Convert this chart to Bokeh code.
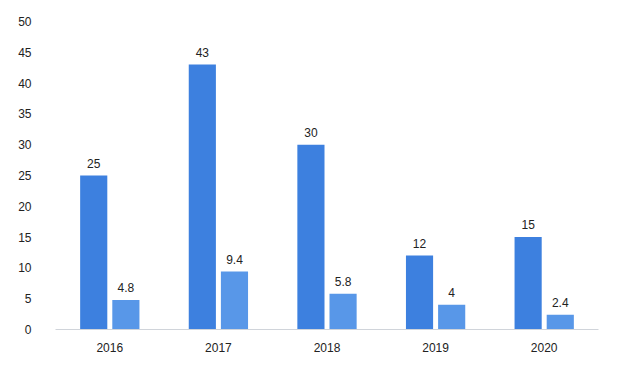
from bokeh.plotting import figure
from bokeh.models import ColumnDataSource, Range1d, FixedTicker
from bokeh.transform import dodge
from bokeh.embed import file_html
from bokeh.resources import INLINE
from bokeh.core.properties import value

years = ["2016", "2017", "2018", "2019", "2020"]
series_a = [25, 43, 30, 12, 15]
series_b = [4.8, 9.4, 5.8, 4, 2.4]
labels_a = ["25", "43", "30", "12", "15"]
labels_b = ["4.8", "9.4", "5.8", "4", "2.4"]
y_ticks = [0, 5, 10, 15, 20, 25, 30, 35, 40, 45, 50]

src = ColumnDataSource(dict(x=years, a=series_a, b=series_b, la=labels_a, lb=labels_b))

p = figure(width=640, height=370, x_range=years, y_range=Range1d(0, 50),
           output_backend="svg", toolbar_location=None,
           min_border_left=55, min_border_right=42, min_border_top=21, min_border_bottom=41)
p.outline_line_color = None
p.background_fill_color = "white"
p.border_fill_color = "white"
p.xgrid.grid_line_color = None
p.ygrid.grid_line_color = None

dark = "#3d80df"
light = "#5897e8"
p.vbar(x=dodge("x", -0.148, range=p.x_range), top="a", width=0.25, source=src,
       fill_color=dark, line_color=None)
p.vbar(x=dodge("x", 0.148, range=p.x_range), top="b", width=0.25, source=src,
       fill_color=light, line_color=None)

font = value("Liberation Sans")
p.text(x=dodge("x", -0.148, range=p.x_range), y="a", text="la", source=src,
       text_align="center", text_baseline="bottom", y_offset=-8,
       text_font=font, text_font_size="12px", text_color="#222222")
p.text(x=dodge("x", 0.148, range=p.x_range), y="b", text="lb", source=src,
       text_align="center", text_baseline="bottom", y_offset=-8,
       text_font=font, text_font_size="12px", text_color="#222222")

p.yaxis.ticker = FixedTicker(ticks=y_ticks)
p.yaxis.axis_line_color = None
p.yaxis.major_tick_line_color = None
p.yaxis.minor_tick_line_color = None
p.yaxis.major_label_standoff = 18
p.yaxis.major_label_text_font = "Liberation Sans"
p.yaxis.major_label_text_font_size = "12px"
p.yaxis.major_label_text_color = "#222222"

p.xaxis.axis_line_color = "#d0d4da"
p.xaxis.axis_line_width = 1
p.xaxis.major_tick_line_color = None
p.xaxis.minor_tick_line_color = None
p.xaxis.major_label_standoff = 7
p.xaxis.major_label_text_font = "Liberation Sans"
p.xaxis.major_label_text_font_size = "12px"
p.xaxis.major_label_text_color = "#222222"

open("out.html", "w").write(file_html(p, INLINE))
